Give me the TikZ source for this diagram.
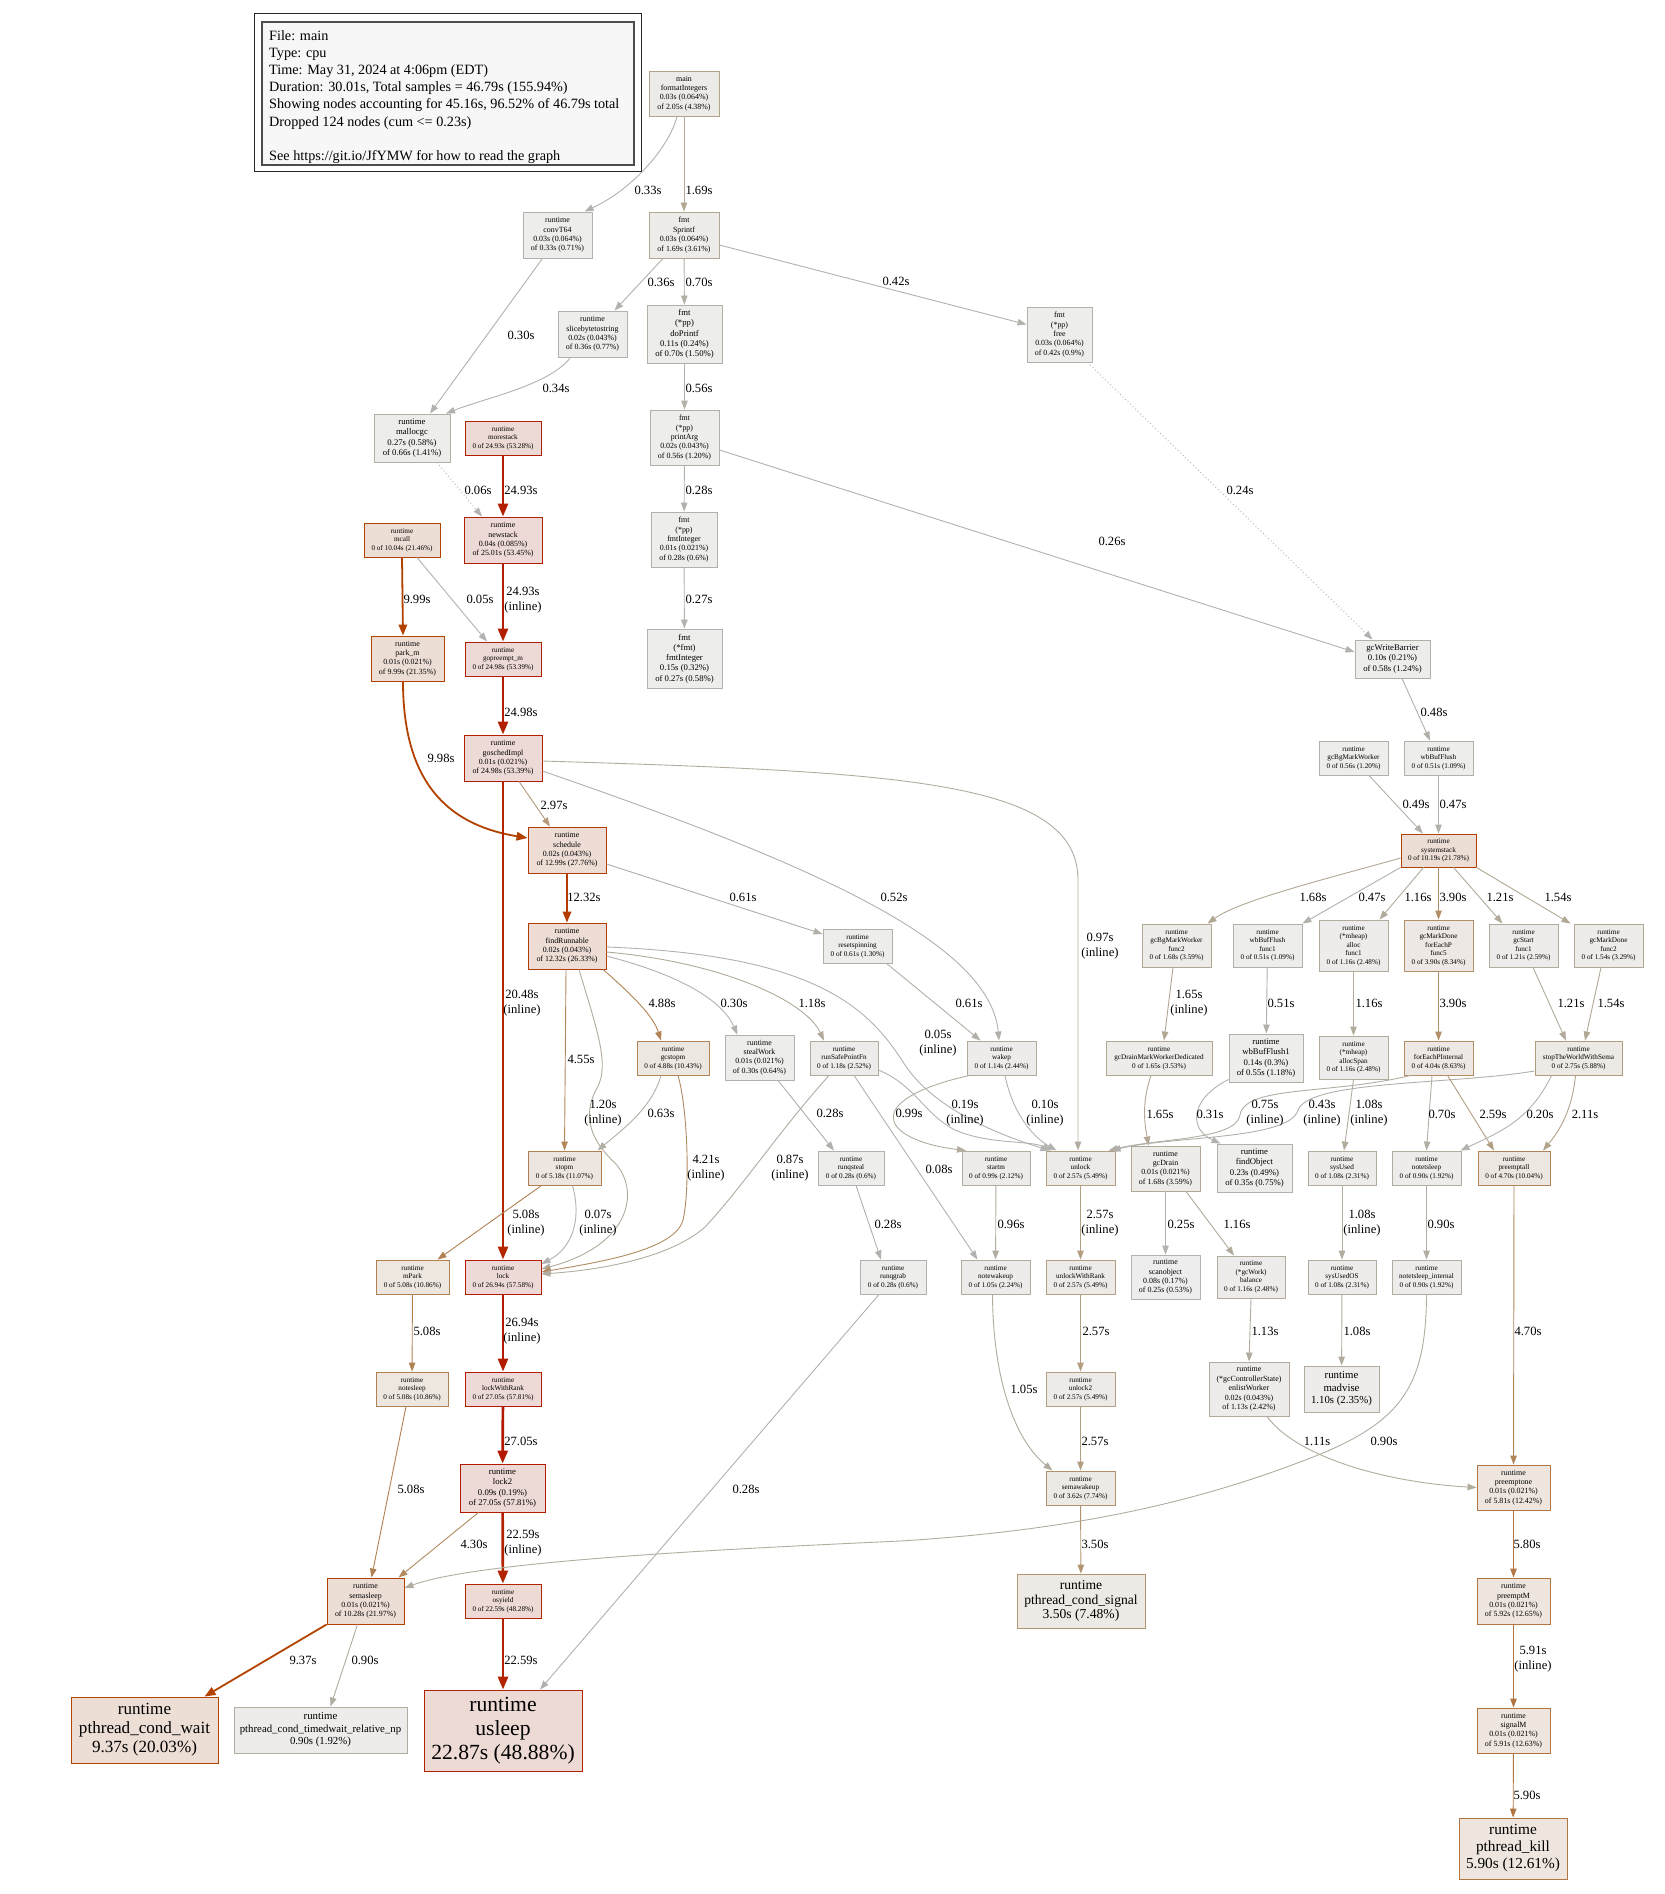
\documentclass[tikz,border=0pt]{standalone}
\usepackage{fontspec}
\setmainfont{Liberation Serif}
\usetikzlibrary{arrows.meta}

\newcommand\heatcolors[2]{%
  \pgfmathsetmacro\hsc{min(1,max(0.00001,#2))}%
  \pgfmathsetmacro\hfac{(\hsc<0.2)?(\hsc/0.2):1}%
  \pgfmathsetmacro\hsh{\hsc^0.3}%
  \pgfmathsetmacro\fgG{0.7*(1-\hfac*\hsh)}%
  \pgfmathsetmacro\fgB{0.7*(1-\hfac)}%
  \pgfmathsetmacro\bgG{0.93*(1-0.1*\hfac*\hsh)}%
  \pgfmathsetmacro\bgB{0.93*(1-0.1*\hfac)}%
  \definecolor{#1fg}{rgb}{0.7,\fgG,\fgB}%
  \definecolor{#1bg}{rgb}{0.93,\bgG,\bgB}%
}

\tikzset{
  nheat/.code={\heatcolors{h}{#1/46.79}\pgfkeysalso{draw=hfg,fill=hbg}},
  eheat/.code={\heatcolors{e}{#1/46.79}\pgfkeysalso{draw=efg}},
  pbox/.style={rectangle,inner sep=0pt,line width=0.9pt,align=center},
  fa/.style={font=\fontsize{7.2}{8.5}\selectfont},
  fb/.style={font=\fontsize{7.9}{9.4}\selectfont},
  fc/.style={font=\fontsize{8.7}{10.2}\selectfont},
  fd/.style={font=\fontsize{10.8}{12.5}\selectfont},
  fe/.style={font=\fontsize{13.6}{14.8}\selectfont},
  ff/.style={font=\fontsize{15.3}{17}\selectfont},
  fg/.style={font=\fontsize{17.1}{19}\selectfont},
  fh/.style={font=\fontsize{21.6}{23.8}\selectfont},
  edge/.style={line width=0.9pt,-{Triangle[length=9pt,width=6.5pt]}},
  ebold/.style={line width=1.8pt,-{Triangle[length=11pt,width=8.5pt]}},
  eheavy/.style={line width=2.7pt,-{Triangle[length=13pt,width=10pt]}},
  dottededge/.style={dash pattern=on 0.9pt off 2.6pt},
  elabel/.style={font=\fontsize{12.6}{14.6}\selectfont,align=center,inner sep=0pt},
}

\newcommand\pnode[8]{%
  \node[pbox,#6,nheat=#7,minimum width={#4-#2},minimum height={#5-#3}] (#1) at ({(#2+#4)/2},{(#3+#5)/2}) {#8};}
\newcommand\elab[4]{\node[elabel] (#1) at (#2,#3) {#4};}

\begin{document}
\begin{tikzpicture}[x=1pt,y=-1pt]
\path[fill=white] (0,0) rectangle (1664,1894);
\useasboundingbox (0,0) rectangle (1664,1894);

% legend
\node[draw=black!85,fill=white,line width=1pt,minimum width=387,minimum height=158,inner sep=0pt] (legOuter) at (447.5,93) {};
\node[draw=black!70,fill=black!3,line width=1.3pt,minimum width=372,minimum height=143,inner sep=0pt] (legInner) at (448,93.5) {};
\node[anchor=north west,inner sep=0pt,align=left,font=\fontsize{14.2}{17.2}\selectfont] (legText) at (269,30)
 {File: main\\Type: cpu\\Time: May 31, 2024 at 4:06pm (EDT)\\Duration: 30.01s, Total samples = 46.79s (155.94\%)\\Showing nodes accounting for 45.16s, 96.52\% of 46.79s total\\Dropped 124 nodes (cum <= 0.23s)\\[17.2pt]See https://git.io/JfYMW for how to read the graph};

% nodes
\pnode{mainFI}{649}{71}{719}{116}{fb}{2.05}{main\\formatIntegers\\0.03s (0.064\%)\\of 2.05s (4.38\%)}
\pnode{convT64}{523}{212}{592}{258}{fb}{0.33}{runtime\\convT64\\0.03s (0.064\%)\\of 0.33s (0.71\%)}
\pnode{sprintf}{649}{212}{719}{258}{fb}{1.69}{fmt\\Sprintf\\0.03s (0.064\%)\\of 1.69s (3.61\%)}
\pnode{slicebyte}{558}{311}{627}{357}{fb}{0.36}{runtime\\slicebytetostring\\0.02s (0.043\%)\\of 0.36s (0.77\%)}
\pnode{doPrintf}{647}{305}{722}{363}{fc}{0.70}{fmt\\(*pp)\\doPrintf\\0.11s (0.24\%)\\of 0.70s (1.50\%)}
\pnode{ppfree}{1027}{307}{1092}{362}{fb}{0.42}{fmt\\(*pp)\\free\\0.03s (0.064\%)\\of 0.42s (0.9\%)}
\pnode{mallocgc}{374}{414}{450}{462}{fc}{0.66}{runtime\\mallocgc\\0.27s (0.58\%)\\of 0.66s (1.41\%)}
\pnode{morestack}{465}{421}{541}{455}{fa}{24.93}{runtime\\morestack\\0 of 24.93s (53.28\%)}
\pnode{printArg}{650}{410}{719}{465}{fb}{0.56}{fmt\\(*pp)\\printArg\\0.02s (0.043\%)\\of 0.56s (1.20\%)}
\pnode{newstack}{464}{517}{542}{563}{fb}{25.01}{runtime\\newstack\\0.04s (0.085\%)\\of 25.01s (53.45\%)}
\pnode{mcall}{364}{523}{440}{557}{fa}{10.04}{runtime\\mcall\\0 of 10.04s (21.46\%)}
\pnode{ppFmtInt}{651}{512}{717}{567}{fb}{0.28}{fmt\\(*pp)\\fmtInteger\\0.01s (0.021\%)\\of 0.28s (0.6\%)}
\pnode{parkm}{371}{636}{444}{681}{fb}{9.99}{runtime\\park\_m\\0.01s (0.021\%)\\of 9.99s (21.35\%)}
\pnode{gopreempt}{465}{642}{541}{676}{fa}{24.98}{runtime\\gopreempt\_m\\0 of 24.98s (53.39\%)}
\pnode{fmtFmtInt}{647}{629}{722}{688}{fc}{0.27}{fmt\\(*fmt)\\fmtInteger\\0.15s (0.32\%)\\of 0.27s (0.58\%)}
\pnode{gcWB}{1355}{640}{1430}{678}{fc}{0.58}{gcWriteBarrier\\0.10s (0.21\%)\\of 0.58s (1.24\%)}
\pnode{goschedImpl}{464}{735}{542}{781}{fb}{24.98}{runtime\\goschedImpl\\0.01s (0.021\%)\\of 24.98s (53.39\%)}
\pnode{gcBgMW}{1319}{741}{1388}{775}{fa}{0.56}{runtime\\gcBgMarkWorker\\0 of 0.56s (1.20\%)}
\pnode{wbBufFlush}{1404}{741}{1473}{775}{fa}{0.51}{runtime\\wbBufFlush\\0 of 0.51s (1.09\%)}
\pnode{schedule}{528}{827}{606}{873}{fb}{12.99}{runtime\\schedule\\0.02s (0.043\%)\\of 12.99s (27.76\%)}
\pnode{systemstack}{1401}{834}{1476}{867}{fa}{10.19}{runtime\\systemstack\\0 of 10.19s (21.78\%)}
\pnode{findRunnable}{528}{923}{606}{969}{fb}{12.32}{runtime\\findRunnable\\0.02s (0.043\%)\\of 12.32s (26.33\%)}
\pnode{resetspinning}{823}{929}{892}{963}{fa}{0.61}{runtime\\resetspinning\\0 of 0.61s (1.30\%)}
\pnode{gcBgMWf2}{1142}{924}{1211}{967}{fa}{1.68}{runtime\\gcBgMarkWorker\\func2\\0 of 1.68s (3.59\%)}
\pnode{wbBufFlushf1}{1233}{924}{1302}{967}{fa}{0.51}{runtime\\wbBufFlush\\func1\\0 of 0.51s (1.09\%)}
\pnode{mheapAlloc}{1319}{920}{1388}{971}{fa}{1.16}{runtime\\(*mheap)\\alloc\\func1\\0 of 1.16s (2.48\%)}
\pnode{forEachPf5}{1404}{920}{1473}{971}{fa}{3.90}{runtime\\gcMarkDone\\forEachP\\func5\\0 of 3.90s (8.34\%)}
\pnode{gcStartf1}{1489}{924}{1558}{967}{fa}{1.21}{runtime\\gcStart\\func1\\0 of 1.21s (2.59\%)}
\pnode{gcMarkDonef2}{1574}{924}{1643}{967}{fa}{1.54}{runtime\\gcMarkDone\\func2\\0 of 1.54s (3.29\%)}
\pnode{gcstopm}{637}{1041}{709}{1075}{fa}{4.88}{runtime\\gcstopm\\0 of 4.88s (10.43\%)}
\pnode{stealWork}{725}{1035}{794}{1080}{fb}{0.30}{runtime\\stealWork\\0.01s (0.021\%)\\of 0.30s (0.64\%)}
\pnode{runSafePointFn}{810}{1041}{878}{1075}{fa}{1.18}{runtime\\runSafePointFn\\0 of 1.18s (2.52\%)}
\pnode{wakep}{967}{1041}{1036}{1075}{fa}{1.14}{runtime\\wakep\\0 of 1.14s (2.44\%)}
\pnode{gcDrainMWD}{1106}{1041}{1212}{1075}{fa}{1.65}{runtime\\gcDrainMarkWorkerDedicated\\0 of 1.65s (3.53\%)}
\pnode{wbBufFlush1}{1229}{1034}{1303}{1082}{fc}{0.55}{runtime\\wbBufFlush1\\0.14s (0.3\%)\\of 0.55s (1.18\%)}
\pnode{allocSpan}{1319}{1036}{1388}{1079}{fa}{1.16}{runtime\\(*mheap)\\allocSpan\\0 of 1.16s (2.48\%)}
\pnode{forEachPInternal}{1404}{1041}{1473}{1075}{fa}{4.04}{runtime\\forEachPInternal\\0 of 4.04s (8.63\%)}
\pnode{stwws}{1535}{1041}{1622}{1075}{fa}{2.75}{runtime\\stopTheWorldWithSema\\0 of 2.75s (5.88\%)}
\pnode{stopm}{528}{1151}{601}{1185}{fa}{5.18}{runtime\\stopm\\0 of 5.18s (11.07\%)}
\pnode{runqsteal}{818}{1151}{884}{1185}{fa}{0.28}{runtime\\runqsteal\\0 of 0.28s (0.6\%)}
\pnode{startm}{962}{1151}{1030}{1185}{fa}{0.99}{runtime\\startm\\0 of 0.99s (2.12\%)}
\pnode{unlock}{1046}{1151}{1115}{1185}{fa}{2.57}{runtime\\unlock\\0 of 2.57s (5.49\%)}
\pnode{gcDrain}{1131}{1146}{1200}{1191}{fb}{1.68}{runtime\\gcDrain\\0.01s (0.021\%)\\of 1.68s (3.59\%)}
\pnode{findObject}{1217}{1144}{1292}{1192}{fc}{0.35}{runtime\\findObject\\0.23s (0.49\%)\\of 0.35s (0.75\%)}
\pnode{sysUsed}{1308}{1151}{1376}{1185}{fa}{1.08}{runtime\\sysUsed\\0 of 1.08s (2.31\%)}
\pnode{notetsleep}{1392}{1151}{1461}{1185}{fa}{0.90}{runtime\\notetsleep\\0 of 0.90s (1.92\%)}
\pnode{preemptall}{1478}{1151}{1550}{1185}{fa}{4.70}{runtime\\preemptall\\0 of 4.70s (10.04\%)}
\pnode{mPark}{376}{1260}{449}{1294}{fa}{5.08}{runtime\\mPark\\0 of 5.08s (10.86\%)}
\pnode{lock}{465}{1260}{541}{1294}{fa}{26.94}{runtime\\lock\\0 of 26.94s (57.58\%)}
\pnode{runqgrab}{860}{1260}{926}{1294}{fa}{0.28}{runtime\\runqgrab\\0 of 0.28s (0.6\%)}
\pnode{notewakeup}{961}{1260}{1030}{1294}{fa}{1.05}{runtime\\notewakeup\\0 of 1.05s (2.24\%)}
\pnode{unlockWithRank}{1046}{1260}{1115}{1294}{fa}{2.57}{runtime\\unlockWithRank\\0 of 2.57s (5.49\%)}
\pnode{scanobject}{1131}{1255}{1200}{1299}{fb}{0.25}{runtime\\scanobject\\0.08s (0.17\%)\\of 0.25s (0.53\%)}
\pnode{gcWorkBalance}{1217}{1256}{1285}{1298}{fa}{1.16}{runtime\\(*gcWork)\\balance\\0 of 1.16s (2.48\%)}
\pnode{sysUsedOS}{1308}{1260}{1376}{1294}{fa}{1.08}{runtime\\sysUsedOS\\0 of 1.08s (2.31\%)}
\pnode{notetsleepInt}{1392}{1260}{1461}{1294}{fa}{0.90}{runtime\\notetsleep\_internal\\0 of 0.90s (1.92\%)}
\pnode{notesleep}{376}{1372}{448}{1406}{fa}{5.08}{runtime\\notesleep\\0 of 5.08s (10.86\%)}
\pnode{lockWithRank}{465}{1372}{541}{1406}{fa}{27.05}{runtime\\lockWithRank\\0 of 27.05s (57.81\%)}
\pnode{unlock2}{1046}{1372}{1115}{1406}{fa}{2.57}{runtime\\unlock2\\0 of 2.57s (5.49\%)}
\pnode{enlistWorker}{1209}{1362}{1289}{1416}{fb}{1.13}{runtime\\(*gcControllerState)\\enlistWorker\\0.02s (0.043\%)\\of 1.13s (2.42\%)}
\pnode{madvise}{1304}{1366}{1379}{1412}{fd}{1.10}{runtime\\madvise\\1.10s (2.35\%)}
\pnode{lock2}{460}{1464}{545}{1512}{fc}{27.05}{runtime\\lock2\\0.09s (0.19\%)\\of 27.05s (57.81\%)}
\pnode{semawakeup}{1046}{1471}{1115}{1505}{fa}{3.62}{runtime\\semawakeup\\0 of 3.62s (7.74\%)}
\pnode{preemptone}{1477}{1465}{1550}{1510}{fb}{5.81}{runtime\\preemptone\\0.01s (0.021\%)\\of 5.81s (12.42\%)}
\pnode{semasleep}{327}{1578}{404}{1624}{fb}{10.28}{runtime\\semasleep\\0.01s (0.021\%)\\of 10.28s (21.97\%)}
\pnode{osyield}{465}{1584}{541}{1618}{fa}{22.59}{runtime\\osyield\\0 of 22.59s (48.28\%)}
\pnode{pcsignal}{1017}{1574}{1145}{1628}{fe}{3.50}{runtime\\pthread\_cond\_signal\\3.50s (7.48\%)}
\pnode{preemptM}{1477}{1578}{1550}{1624}{fb}{5.92}{runtime\\preemptM\\0.01s (0.021\%)\\of 5.92s (12.65\%)}
\pnode{pcwait}{71}{1697}{218}{1763}{fg}{9.37}{runtime\\pthread\_cond\_wait\\9.37s (20.03\%)}
\pnode{pctimed}{234}{1707}{407}{1753}{fd}{0.90}{runtime\\pthread\_cond\_timedwait\_relative\_np\\0.90s (1.92\%)}
\pnode{usleep}{424}{1690}{582}{1771}{fh}{22.87}{runtime\\usleep\\22.87s (48.88\%)}
\pnode{signalM}{1477}{1708}{1550}{1753}{fb}{5.91}{runtime\\signalM\\0.01s (0.021\%)\\of 5.91s (12.63\%)}
\pnode{pkill}{1459}{1818}{1567}{1879}{ff}{5.90}{runtime\\pthread\_kill\\5.90s (12.61\%)}

% edges
\draw[edge,eheat=0.33] ([xshift=-7pt]mainFI.south) .. controls (670,145) and (635,188) .. ([xshift=27pt]convT64.north);
\draw[edge,eheat=1.69] (mainFI) -- (sprintf);
\draw[edge,eheat=0.30] ([xshift=-15pt]convT64.south) -- ([xshift=18pt]mallocgc.north);
\draw[edge,eheat=0.36] ([xshift=-21pt]sprintf.south) -- ([xshift=22pt]slicebyte.north);
\draw[edge,eheat=0.70] (sprintf) -- (doPrintf);
\draw[edge,eheat=0.42] ([yshift=-10pt]sprintf.east) -- ([yshift=10pt]ppfree.west);
\draw[edge,eheat=0.34] ([xshift=-22pt]slicebyte.south) .. controls (550,385) and (485,398) .. ([xshift=34pt]mallocgc.north);
\draw[edge,eheat=0.56] (doPrintf) -- (printArg);
\draw[edge,eheat=0.28] (printArg) -- (ppFmtInt);
\draw[edge,eheat=0.26] ([yshift=-12.5pt]printArg.east) -- ([yshift=7pt]gcWB.west);
\draw[edge,eheat=0.27] (ppFmtInt) -- (fmtFmtInt);
\draw[edge,dottededge,eheat=0.24] ([xshift=28pt]ppfree.south) -- ([xshift=-20pt]gcWB.north);
\draw[edge,dottededge,eheat=0.06] ([xshift=25pt]mallocgc.south) -- ([xshift=-21pt]newstack.north);
\draw[eheavy,eheat=24.93] (morestack) -- (newstack);
\draw[eheavy,eheat=24.93] (newstack) -- (gopreempt);
\draw[ebold,eheat=9.99] (mcall.south) -- ([xshift=-4.5pt]parkm.north);
\draw[edge,eheat=0.05] ([xshift=15pt]mcall.south) -- ([xshift=-16pt]gopreempt.north);
\draw[eheavy,eheat=24.98] (gopreempt) -- (goschedImpl);
\draw[ebold,eheat=9.98] ([xshift=-4.5pt]parkm.south) .. controls (403,790) and (455,826) .. ([yshift=12pt]schedule.west);
\draw[edge,eheat=2.97] ([xshift=16pt]goschedImpl.south) -- ([xshift=-17pt]schedule.north);
\draw[eheavy,eheat=20.48] (goschedImpl) -- (lock);
\draw[edge,eheat=0.97] ([yshift=-3pt]goschedImpl.east) .. controls (900,772) and (1078,780) .. (1078,880) -- ([xshift=-2.5pt]unlock.north);
\draw[edge,eheat=0.52] ([yshift=-13pt]goschedImpl.east) .. controls (800,860) and (990,940) .. ([xshift=-2.5pt]wakep.north);
\draw[ebold,eheat=12.32] (schedule) -- (findRunnable);
\draw[edge,eheat=0.61] ([yshift=-14pt]schedule.east) -- ([yshift=12pt]resetspinning.west);
\draw[edge,eheat=4.55] ([xshift=-1pt]findRunnable.south) -- (stopm.north);
\draw[edge,eheat=1.20] ([xshift=12pt]findRunnable.south) .. controls (597,1030) and (610,1065) .. (597,1088) .. controls (582,1115) and (590,1140) .. (615,1163) .. controls (640,1190) and (632,1245) .. ([yshift=8pt]lock.east);
\draw[edge,eheat=4.88] ([xshift=36pt]findRunnable.south) .. controls (630,993) and (653,1015) .. ([xshift=-12pt]gcstopm.north);
\draw[edge,eheat=0.30] ([yshift=-10pt]findRunnable.east) .. controls (680,975) and (722,1000) .. ([xshift=-22pt]stealWork.north);
\draw[edge,eheat=1.18] ([yshift=-6pt]findRunnable.east) .. controls (720,962) and (805,1000) .. ([xshift=-20pt]runSafePointFn.north);
\draw[edge,eheat=0.05] ([yshift=-1pt]findRunnable.east) .. controls (820,955) and (870,1010) .. (905,1065) .. controls (935,1110) and (1000,1135) .. ([xshift=-31pt]unlock.north);
\draw[edge,eheat=0.28] ([xshift=18.5pt]stealWork.south) -- ([xshift=-17pt]runqsteal.north);
\draw[edge,eheat=0.63] ([xshift=-12pt]gcstopm.south) .. controls (652,1108) and (622,1130) .. ([xshift=33pt]stopm.north);
\draw[edge,eheat=4.21] ([xshift=5pt]gcstopm.south) .. controls (688,1110) and (690,1190) .. (683,1220) .. controls (675,1250) and (600,1262) .. ([yshift=5pt]lock.east);
\draw[edge,eheat=0.87] ([xshift=-15pt]runSafePointFn.south) .. controls (780,1130) and (740,1190) .. (705,1227) .. controls (670,1258) and (600,1270) .. ([yshift=3pt]lock.east);
\draw[edge,eheat=0.19] ([yshift=-12pt]runSafePointFn.east) .. controls (915,1085) and (925,1115) .. (955,1130) .. controls (990,1145) and (1030,1140) .. ([xshift=-29pt]unlock.north);
\draw[edge,eheat=0.08] ([xshift=10pt]runSafePointFn.south) -- ([xshift=-18pt]notewakeup.north);
\draw[edge,eheat=0.99] ([xshift=-32pt]wakep.south) .. controls (860,1100) and (880,1140) .. ([xshift=-30pt]startm.north);
\draw[edge,eheat=0.10] ([xshift=3.5pt]wakep.south) .. controls (1012,1110) and (1030,1135) .. ([xshift=-24pt]unlock.north);
\draw[edge,eheat=0.61] ([xshift=29pt]resetspinning.south) -- ([xshift=-21pt]wakep.north);
\draw[edge,eheat=0.28] ([xshift=5pt]runqsteal.south) -- ([xshift=-12pt]runqgrab.north);
\draw[edge,eheat=0.28] ([xshift=-14pt]runqgrab.south) -- ([xshift=37pt]usleep.north);
\draw[edge,eheat=0.96] (startm) -- (notewakeup);
\draw[edge,eheat=1.05] ([xshift=-3pt]notewakeup.south) .. controls (993,1380) and (1015,1440) .. ([xshift=-28pt]semawakeup.north);
\draw[edge,eheat=2.57] (unlock) -- (unlockWithRank);
\draw[edge,eheat=2.57] (unlockWithRank) -- (unlock2);
\draw[edge,eheat=2.57] (unlock2) -- (semawakeup);
\draw[edge,eheat=3.50] (semawakeup) -- (pcsignal);
\draw[edge,eheat=5.08] ([xshift=-23pt]stopm.south) -- ([xshift=25pt]mPark.north);
\draw[edge,eheat=0.07] ([xshift=8pt]stopm.south) .. controls (582,1220) and (572,1248) .. ([yshift=13pt]lock.east);
\draw[eheavy,eheat=26.94] (lock) -- (lockWithRank);
\draw[edge,eheat=5.08] (mPark) -- (notesleep);
\draw[eheavy,eheat=27.05] (lockWithRank) -- (lock2);
\draw[edge,eheat=5.08] ([xshift=-6pt]notesleep.south) -- ([xshift=6pt]semasleep.north);
\draw[edge,eheat=4.30] ([xshift=-24pt]lock2.south) -- ([xshift=33pt]semasleep.north);
\draw[eheavy,eheat=22.59] (lock2) -- (osyield);
\draw[eheavy,eheat=22.59] (osyield) -- (usleep);
\draw[ebold,eheat=9.37] (semasleep.south west) -- ([xshift=60pt]pcwait.north);
\draw[edge,eheat=0.90] ([xshift=-8pt]semasleep.south) -- ([xshift=10pt]pctimed.north);
\draw[edge,eheat=0.90] (notetsleepInt.south) .. controls (1426,1390) and (1400,1425) .. (1300,1462) .. controls (1200,1500) and (1080,1530) .. (900,1541) .. controls (750,1548) and (480,1560) .. ([yshift=13pt]semasleep.east);
\draw[edge,eheat=0.90] (notetsleep) -- (notetsleepInt);
\draw[edge,eheat=1.11] ([xshift=18pt]enlistWorker.south) .. controls (1295,1455) and (1380,1482) .. (preemptone.west);
\draw[edge,eheat=4.70] (preemptall) -- (preemptone);
\draw[edge,eheat=5.80] (preemptone) -- (preemptM);
\draw[edge,eheat=5.91] (preemptM) -- (signalM);
\draw[edge,eheat=5.90] (signalM) -- (pkill);
\draw[edge,eheat=0.48] ([xshift=9.5pt]gcWB.south) -- ([xshift=-8.5pt]wbBufFlush.north);
\draw[edge,eheat=0.49] ([xshift=15.5pt]gcBgMW.south) -- ([xshift=-15.5pt]systemstack.north);
\draw[edge,eheat=0.47] (wbBufFlush) -- (systemstack);
\draw[edge,eheat=1.68] ([yshift=-7.5pt]systemstack.west) .. controls (1330,878) and (1240,900) .. ([xshift=31pt]gcBgMWf2.north);
\draw[edge,eheat=0.47] (systemstack.south west) -- ([xshift=35pt]wbBufFlushf1.north);
\draw[edge,eheat=1.16] ([xshift=-15pt]systemstack.south) -- ([xshift=26pt]mheapAlloc.north);
\draw[edge,eheat=3.90] (systemstack) -- (forEachPf5);
\draw[edge,eheat=1.21] ([xshift=15pt]systemstack.south) -- ([xshift=-21pt]gcStartf1.north);
\draw[edge,eheat=1.54] (systemstack.south east) -- ([xshift=-38pt]gcMarkDonef2.north);
\draw[edge,eheat=1.65] ([xshift=-3.5pt]gcBgMWf2.south) -- ([xshift=5pt]gcDrainMWD.north);
\draw[edge,eheat=0.51] (wbBufFlushf1) -- (wbBufFlush1);
\draw[edge,eheat=1.16] (mheapAlloc) -- (allocSpan);
\draw[edge,eheat=3.90] (forEachPf5) -- (forEachPInternal);
\draw[edge,eheat=1.21] ([xshift=9.5pt]gcStartf1.south) -- ([xshift=-12.5pt]stwws.north);
\draw[edge,eheat=1.54] ([xshift=-7.5pt]gcMarkDonef2.south) -- ([xshift=6.5pt]stwws.north);
\draw[edge,eheat=1.65] ([xshift=-8pt]gcDrainMWD.south) .. controls (1141,1105) and (1145,1125) .. ([xshift=-17pt]gcDrain.north);
\draw[edge,eheat=0.31] ([yshift=3pt]wbBufFlush1.south west) .. controls (1188,1100) and (1190,1130) .. ([xshift=-34pt]findObject.north);
\draw[edge,eheat=0.75] ([xshift=-28pt]forEachPInternal.south) .. controls (1330,1095) and (1245,1085) .. (1240,1115) .. controls (1236,1140) and (1160,1138) .. ([xshift=28pt]unlock.north);
\draw[edge,eheat=0.43] ([yshift=-13pt]stwws.west) .. controls (1450,1085) and (1310,1080) .. (1298,1110) .. controls (1290,1140) and (1170,1136) .. ([xshift=31pt]unlock.north);
\draw[edge,eheat=1.08] (allocSpan.south) -- ([xshift=2pt]sysUsed.north);
\draw[edge,eheat=0.70] ([xshift=-6.5pt]forEachPInternal.south) -- (notetsleep.north);
\draw[edge,eheat=2.59] ([xshift=9pt]forEachPInternal.south) -- ([xshift=-20pt]preemptall.north);
\draw[edge,eheat=0.20] ([xshift=-27pt]stwws.south) .. controls (1530,1120) and (1500,1132) .. ([xshift=34pt]notetsleep.north);
\draw[edge,eheat=2.11] ([xshift=-3pt]stwws.south) .. controls (1572,1110) and (1560,1130) .. ([xshift=29pt]preemptall.north);
\draw[edge,eheat=0.25] (gcDrain) -- (scanobject);
\draw[edge,eheat=1.16] ([xshift=20.5pt]gcDrain.south) -- ([xshift=-17pt]gcWorkBalance.north);
\draw[edge,eheat=1.13] (gcWorkBalance.south) -- (enlistWorker.north);
\draw[edge,eheat=1.08] (sysUsed) -- (sysUsedOS);
\draw[edge,eheat=1.08] (sysUsedOS) -- (madvise);

% edge labels
\elab{l1}{648}{190}{0.33s}
\elab{l2}{699}{190}{1.69s}
\elab{l3}{521}{335}{0.30s}
\elab{l4}{661}{282}{0.36s}
\elab{l5}{699}{282}{0.70s}
\elab{l6}{896}{281}{0.42s}
\elab{l7}{556}{388}{0.34s}
\elab{l8}{699}{388}{0.56s}
\elab{l9}{699}{490}{0.28s}
\elab{l10}{1112}{541}{0.26s}
\elab{l11}{699}{599}{0.27s}
\elab{l12}{1240}{490}{0.24s}
\elab{l13}{478}{490}{0.06s}
\elab{l14}{521}{490}{24.93s}
\elab{l15}{523}{600}{24.93s\\(inline)}
\elab{l16}{417}{599}{9.99s}
\elab{l17}{480}{599}{0.05s}
\elab{l18}{521}{712}{24.98s}
\elab{l19}{441}{758}{9.98s}
\elab{l20}{554}{805}{2.97s}
\elab{l21}{522}{1003}{20.48s\\(inline)}
\elab{l22}{1100}{946}{0.97s\\(inline)}
\elab{l23}{894}{897}{0.52s}
\elab{l24}{584}{897}{12.32s}
\elab{l25}{743}{897}{0.61s}
\elab{l26}{581}{1059}{4.55s}
\elab{l27}{603}{1113}{1.20s\\(inline)}
\elab{l28}{662}{1003}{4.88s}
\elab{l29}{734}{1003}{0.30s}
\elab{l30}{812}{1003}{1.18s}
\elab{l31}{938}{1043}{0.05s\\(inline)}
\elab{l32}{830}{1113}{0.28s}
\elab{l33}{661}{1113}{0.63s}
\elab{l34}{706}{1168}{4.21s\\(inline)}
\elab{l35}{790}{1168}{0.87s\\(inline)}
\elab{l36}{965}{1113}{0.19s\\(inline)}
\elab{l37}{939}{1169}{0.08s}
\elab{l38}{909}{1113}{0.99s}
\elab{l39}{1045}{1113}{0.10s\\(inline)}
\elab{l40}{969}{1003}{0.61s}
\elab{l41}{888}{1224}{0.28s}
\elab{l42}{746}{1489}{0.28s}
\elab{l43}{1011}{1224}{0.96s}
\elab{l44}{1024}{1389}{1.05s}
\elab{l45}{1100}{1223}{2.57s\\(inline)}
\elab{l46}{1096}{1331}{2.57s}
\elab{l47}{1095}{1441}{2.57s}
\elab{l48}{1095}{1544}{3.50s}
\elab{l49}{526}{1223}{5.08s\\(inline)}
\elab{l50}{598}{1223}{0.07s\\(inline)}
\elab{l51}{522}{1331}{26.94s\\(inline)}
\elab{l52}{427}{1331}{5.08s}
\elab{l53}{521}{1441}{27.05s}
\elab{l54}{411}{1489}{5.08s}
\elab{l55}{474}{1544}{4.30s}
\elab{l56}{523}{1543}{22.59s\\(inline)}
\elab{l57}{521}{1660}{22.59s}
\elab{l58}{303}{1660}{9.37s}
\elab{l59}{365}{1660}{0.90s}
\elab{l60}{1384}{1441}{0.90s}
\elab{l61}{1441}{1224}{0.90s}
\elab{l62}{1317}{1441}{1.11s}
\elab{l63}{1528}{1331}{4.70s}
\elab{l64}{1527}{1544}{5.80s}
\elab{l65}{1533}{1659}{5.91s\\(inline)}
\elab{l66}{1527}{1795}{5.90s}
\elab{l67}{1434}{712}{0.48s}
\elab{l68}{1416}{804}{0.49s}
\elab{l69}{1453}{804}{0.47s}
\elab{l70}{1313}{897}{1.68s}
\elab{l71}{1372}{897}{0.47s}
\elab{l72}{1418}{897}{1.16s}
\elab{l73}{1453}{897}{3.90s}
\elab{l74}{1500}{897}{1.21s}
\elab{l75}{1558}{897}{1.54s}
\elab{l76}{1189}{1003}{1.65s\\(inline)}
\elab{l77}{1281}{1003}{0.51s}
\elab{l78}{1369}{1003}{1.16s}
\elab{l79}{1453}{1003}{3.90s}
\elab{l80}{1571}{1003}{1.21s}
\elab{l81}{1611}{1003}{1.54s}
\elab{l82}{1160}{1114}{1.65s}
\elab{l83}{1210}{1114}{0.31s}
\elab{l84}{1265}{1113}{0.75s\\(inline)}
\elab{l84b}{1322}{1113}{0.43s\\(inline)}
\elab{l85}{1369}{1113}{1.08s\\(inline)}
\elab{l86}{1442}{1114}{0.70s}
\elab{l87}{1493}{1114}{2.59s}
\elab{l88}{1540}{1114}{0.20s}
\elab{l89}{1585}{1114}{2.11s}
\elab{l90}{1181}{1224}{0.25s}
\elab{l91}{1237}{1224}{1.16s}
\elab{l92}{1265}{1331}{1.13s}
\elab{l93}{1362}{1223}{1.08s\\(inline)}
\elab{l94}{1357}{1331}{1.08s}
\end{tikzpicture}
\end{document}
